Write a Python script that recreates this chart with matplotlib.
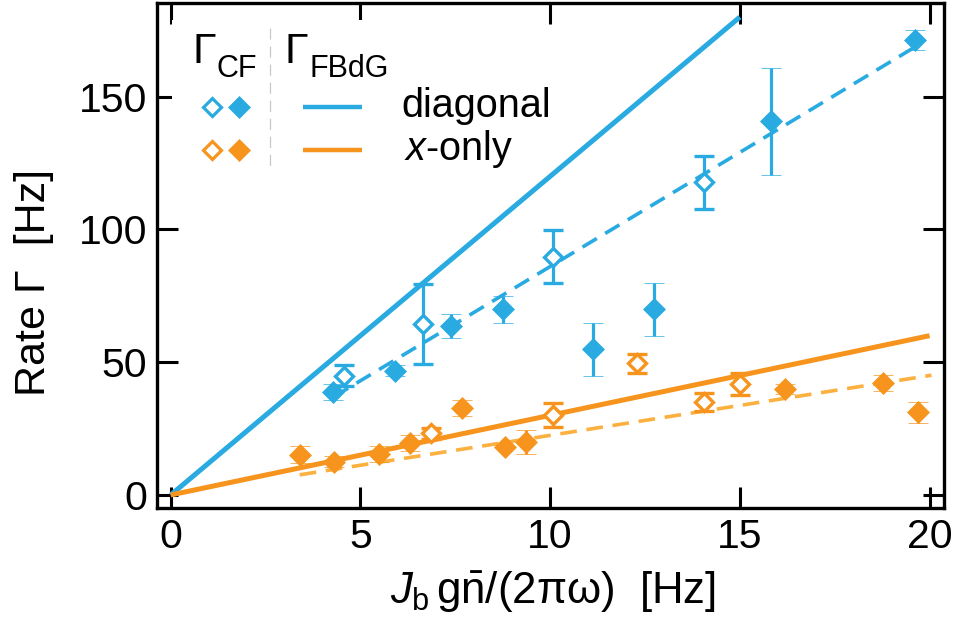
import matplotlib
matplotlib.use("Agg")
import matplotlib.pyplot as plt
from matplotlib.patches import Rectangle
from matplotlib.lines import Line2D

plt.rcParams['font.family'] = ['Liberation Sans', 'DejaVu Sans']
plt.rcParams['mathtext.fontset'] = 'custom'
plt.rcParams['mathtext.rm'] = 'Liberation Sans'
plt.rcParams['mathtext.it'] = 'Liberation Sans:italic'
plt.rcParams['mathtext.bf'] = 'Liberation Sans:bold'
plt.rcParams['lines.scale_dashes'] = False

# ---------------- data ----------------
# CF, diagonal, open diamonds
diag_open_x = [4.57, 6.64, 10.07, 14.05]
diag_open_y = [45.0, 64.5, 89.8, 117.7]
diag_open_e = [4.0, 15.0, 10.0, 10.0]
# CF, diagonal, filled diamonds
diag_fill_x = [4.29, 5.92, 7.40, 8.76, 11.14, 12.74, 15.81, 19.61]
diag_fill_y = [38.9, 46.8, 63.7, 69.9, 54.9, 69.9, 140.7, 171.4]
diag_fill_e = [3.0, 2.0, 4.5, 5.0, 10.0, 10.0, 20.0, 3.8]
# CF, x-only, open diamonds
xonly_open_x = [6.86, 10.08, 12.28, 14.06, 15.00]
xonly_open_y = [23.2, 30.1, 49.6, 35.1, 41.8]
xonly_open_e = [2.0, 4.5, 3.5, 3.4, 4.0]
# CF, x-only, filled diamonds
xonly_fill_x = [3.41, 4.30, 5.50, 6.31, 7.68, 8.81, 9.36, 16.19, 18.78, 19.70]
xonly_fill_y = [15.1, 12.5, 15.4, 19.5, 32.9, 18.2, 20.0, 39.9, 42.1, 31.1]
xonly_fill_e = [3.2, 2.0, 3.0, 3.0, 3.0, 0.0, 4.5, 2.0, 3.0, 4.0]

# FBdG theory lines (solid)
fbdg_diag_x = [0, 15]
fbdg_diag_y = [0, 180]
fbdg_xonly_x = [0, 20]
fbdg_xonly_y = [0, 60]
# fits (dashed)
fit_diag_x = [4.3, 19.6]
fit_diag_y = [37.0, 168.6]
fit_xonly_x = [3.4, 20.05]
fit_xonly_y = [7.6, 45.1]

xticks = [0, 5, 10, 15, 20]
yticks = [0, 50, 100, 150]

BLUE = '#29ABE2'
ORANGE = '#F7941D'
ORANGE_LIGHT = '#FBB040'

# ---------------- figure ----------------
W, H = 958, 624
fig = plt.figure(figsize=(W / 100, H / 100), dpi=100)
AX_L, AX_R, AX_T, AX_B = 157, 944, 3, 508
ax = fig.add_axes([AX_L / W, 1 - AX_B / H, (AX_R - AX_L) / W, (AX_B - AX_T) / H])


def axp(px, py):
    return ((px - AX_L) / (AX_R - AX_L), (AX_B - py) / (AX_B - AX_T))


ax.set_xlim(-0.36, 20.38)
ax.set_ylim(-4.9, 185.3)

# solid theory lines
ax.plot(fbdg_diag_x, fbdg_diag_y, color=BLUE, lw=3.6, solid_capstyle='butt', zorder=2)
ax.plot(fbdg_xonly_x, fbdg_xonly_y, color=ORANGE, lw=3.6, solid_capstyle='butt', zorder=2)
# dashed fits
ax.plot(fit_diag_x, fit_diag_y, color=BLUE, lw=2.6, dashes=(12, 7), zorder=2)
ax.plot(fit_xonly_x, fit_xonly_y, color=ORANGE_LIGHT, lw=2.6, dashes=(12, 7), zorder=2)

eb_kw = dict(ls='none', elinewidth=2.3, capsize=7.5, capthick=2.4, zorder=3)

ax.errorbar(diag_fill_x, diag_fill_y, yerr=diag_fill_e, color=BLUE, marker='D', ms=11,
            mfc=BLUE, mec=BLUE, mew=0.5, **eb_kw)
ax.errorbar(xonly_fill_x, xonly_fill_y, yerr=xonly_fill_e, color=ORANGE, marker='D', ms=11,
            mfc=ORANGE, mec=ORANGE, mew=0.5, **eb_kw)
ax.errorbar(diag_open_x, diag_open_y, yerr=diag_open_e, color=BLUE, marker='D', ms=9.6,
            mfc='white', mec=BLUE, mew=2.4, **eb_kw)
ax.errorbar(xonly_open_x, xonly_open_y, yerr=xonly_open_e, color=ORANGE, marker='D', ms=9.6,
            mfc='white', mec=ORANGE, mew=2.4, **eb_kw)

ax.set_xticks(xticks)
ax.set_yticks(yticks)
ax.tick_params(direction='in', length=15, width=2.2, top=True, right=True,
               labelsize=29.5, pad=7)
for s in ax.spines.values():
    s.set_linewidth(2.4)

ax.set_xlabel(r'$J_{\mathrm{b}}\,\mathrm{g\bar{n}/(2\pi\omega)}$  [Hz]', fontsize=31.5)
ax.xaxis.set_label_coords(0.503, -0.122)
ax.set_ylabel('Rate Γ  [Hz]', fontsize=31, va='center')
ax.yaxis.set_label_coords(-0.156, 0.4475)

# ---------------- legend (manual) ----------------
x0, y0 = axp(172, 176)
x1, y1 = axp(480, 20)
ax.add_patch(Rectangle((x0, y0), x1 - x0, y1 - y0, transform=ax.transAxes,
                       facecolor='white', edgecolor='none', zorder=5))
ax.add_line(Line2D([axp(270, 0)[0]] * 2, [axp(0, 28)[1], axp(0, 170)[1]],
                   transform=ax.transAxes, color='#c8c8c8', lw=0.9,
                   dashes=(8, 5), zorder=6))


def tx(px, py, s, **kw):
    x, y = axp(px, py)
    ax.text(x, y, s, transform=ax.transAxes, zorder=7, va='baseline', ha='left', **kw)


tx(192, 63, 'Γ', fontsize=31)
tx(217, 77, 'CF', fontsize=22)
tx(284, 63, 'Γ', fontsize=31)
tx(309, 77, 'FBdG', fontsize=22)
tx(401, 117, 'diagonal', fontsize=28.5)
tx(404, 160, r'$x$-only', fontsize=28.5)

for py, col in [(107, BLUE), (150, ORANGE)]:
    for px, fc in [(212, 'white'), (239, col)]:
        x, y = axp(px, py)
        ax.add_line(Line2D([x], [y], transform=ax.transAxes, marker='D',
                           ms=(9.0 if fc == 'white' else 11.0), mfc=fc, mec=col,
                           mew=(2.3 if fc == 'white' else 0.5), ls='none', zorder=7))
    xa, ya = axp(303, py)
    xb, _ = axp(362, py)
    ax.add_line(Line2D([xa, xb], [ya, ya], transform=ax.transAxes, color=col,
                       lw=3.2, solid_capstyle='butt', zorder=7))

fig.savefig('out.png', dpi=100)
